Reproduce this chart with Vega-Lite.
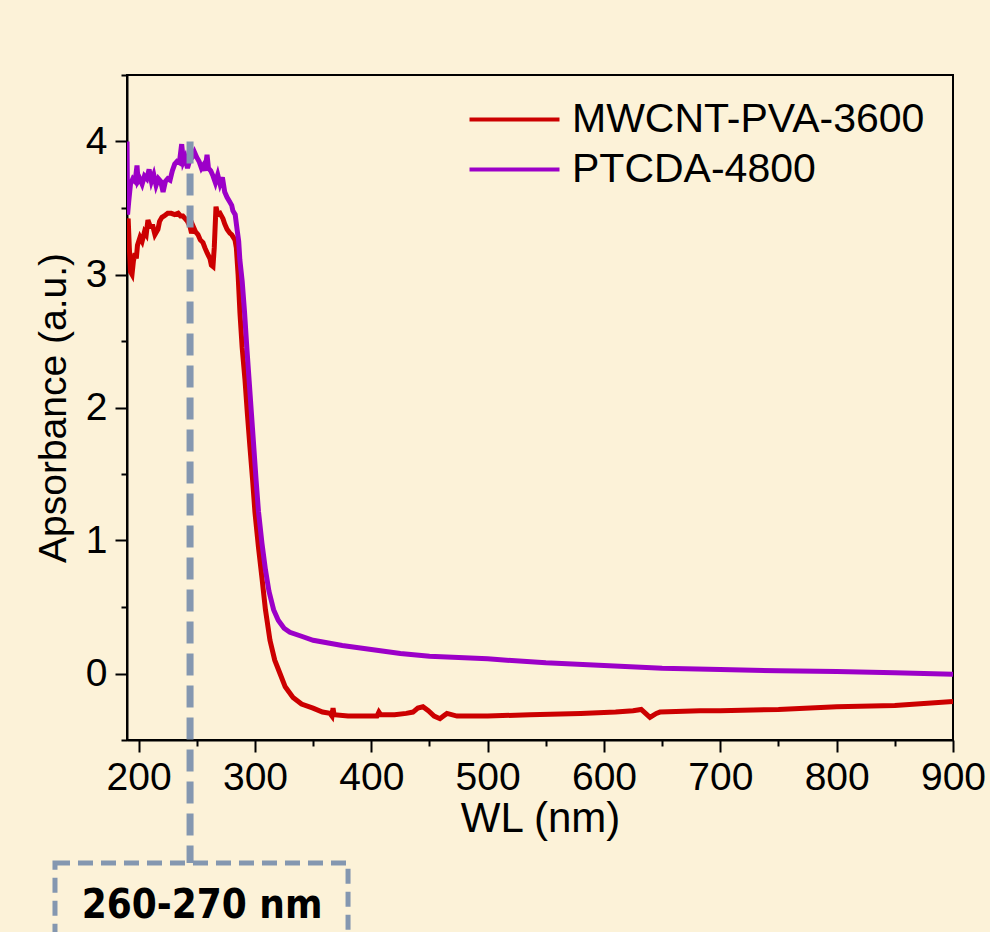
{
  "$schema": "https://vega.github.io/schema/vega-lite/v6.json",
  "width": 826,
  "height": 665,
  "autosize": {"type": "none"},
  "padding": {"left": 127, "top": 75, "right": 37, "bottom": 192},
  "background": "#FCF2D8",
  "config": {
    "view": {"stroke": "black", "strokeWidth": 2},
    "axis": {
      "domainColor": "black", "domainWidth": 2, "tickColor": "black", "tickWidth": 2,
      "labelFont": "Liberation Sans", "labelFontSize": 39, "labelColor": "black",
      "titleFont": "Liberation Sans", "titleFontSize": 39, "titleFontWeight": "normal", "titleColor": "black",
      "grid": false
    }
  },
  "datasets": {
    "spectra": [
      {"s": "MWCNT-PVA-3600", "wl": 190, "a": 3.38},
      {"s": "MWCNT-PVA-3600", "wl": 191, "a": 3.42},
      {"s": "MWCNT-PVA-3600", "wl": 192, "a": 3.2},
      {"s": "MWCNT-PVA-3600", "wl": 193, "a": 3.02},
      {"s": "MWCNT-PVA-3600", "wl": 194.3, "a": 3.0},
      {"s": "MWCNT-PVA-3600", "wl": 195.5, "a": 3.1},
      {"s": "MWCNT-PVA-3600", "wl": 196.9, "a": 3.16},
      {"s": "MWCNT-PVA-3600", "wl": 198, "a": 3.12},
      {"s": "MWCNT-PVA-3600", "wl": 199, "a": 3.22},
      {"s": "MWCNT-PVA-3600", "wl": 201.2, "a": 3.28},
      {"s": "MWCNT-PVA-3600", "wl": 203, "a": 3.25},
      {"s": "MWCNT-PVA-3600", "wl": 205, "a": 3.32},
      {"s": "MWCNT-PVA-3600", "wl": 206.5, "a": 3.3},
      {"s": "MWCNT-PVA-3600", "wl": 208, "a": 3.41},
      {"s": "MWCNT-PVA-3600", "wl": 210, "a": 3.36},
      {"s": "MWCNT-PVA-3600", "wl": 212.3, "a": 3.36},
      {"s": "MWCNT-PVA-3600", "wl": 214, "a": 3.3},
      {"s": "MWCNT-PVA-3600", "wl": 216.6, "a": 3.34},
      {"s": "MWCNT-PVA-3600", "wl": 218, "a": 3.4},
      {"s": "MWCNT-PVA-3600", "wl": 220, "a": 3.43},
      {"s": "MWCNT-PVA-3600", "wl": 222, "a": 3.44},
      {"s": "MWCNT-PVA-3600", "wl": 225, "a": 3.46},
      {"s": "MWCNT-PVA-3600", "wl": 228, "a": 3.46},
      {"s": "MWCNT-PVA-3600", "wl": 231, "a": 3.45},
      {"s": "MWCNT-PVA-3600", "wl": 234, "a": 3.46},
      {"s": "MWCNT-PVA-3600", "wl": 236, "a": 3.44},
      {"s": "MWCNT-PVA-3600", "wl": 238, "a": 3.44},
      {"s": "MWCNT-PVA-3600", "wl": 240, "a": 3.42},
      {"s": "MWCNT-PVA-3600", "wl": 242, "a": 3.4},
      {"s": "MWCNT-PVA-3600", "wl": 244.2, "a": 3.36},
      {"s": "MWCNT-PVA-3600", "wl": 245.5, "a": 3.31},
      {"s": "MWCNT-PVA-3600", "wl": 247, "a": 3.36},
      {"s": "MWCNT-PVA-3600", "wl": 249, "a": 3.32},
      {"s": "MWCNT-PVA-3600", "wl": 251, "a": 3.3},
      {"s": "MWCNT-PVA-3600", "wl": 253, "a": 3.26},
      {"s": "MWCNT-PVA-3600", "wl": 255.3, "a": 3.24},
      {"s": "MWCNT-PVA-3600", "wl": 257, "a": 3.2},
      {"s": "MWCNT-PVA-3600", "wl": 259, "a": 3.16},
      {"s": "MWCNT-PVA-3600", "wl": 261.3, "a": 3.12},
      {"s": "MWCNT-PVA-3600", "wl": 262.5, "a": 3.07},
      {"s": "MWCNT-PVA-3600", "wl": 263.9, "a": 3.06},
      {"s": "MWCNT-PVA-3600", "wl": 265, "a": 3.2},
      {"s": "MWCNT-PVA-3600", "wl": 266.5, "a": 3.51},
      {"s": "MWCNT-PVA-3600", "wl": 268, "a": 3.45},
      {"s": "MWCNT-PVA-3600", "wl": 270, "a": 3.46},
      {"s": "MWCNT-PVA-3600", "wl": 272.5, "a": 3.42},
      {"s": "MWCNT-PVA-3600", "wl": 274, "a": 3.38},
      {"s": "MWCNT-PVA-3600", "wl": 276, "a": 3.34},
      {"s": "MWCNT-PVA-3600", "wl": 278.5, "a": 3.31},
      {"s": "MWCNT-PVA-3600", "wl": 280, "a": 3.3},
      {"s": "MWCNT-PVA-3600", "wl": 282.8, "a": 3.26},
      {"s": "MWCNT-PVA-3600", "wl": 284, "a": 3.2},
      {"s": "MWCNT-PVA-3600", "wl": 285.5, "a": 3.0},
      {"s": "MWCNT-PVA-3600", "wl": 287.1, "a": 2.71},
      {"s": "MWCNT-PVA-3600", "wl": 289, "a": 2.45},
      {"s": "MWCNT-PVA-3600", "wl": 291.4, "a": 2.21},
      {"s": "MWCNT-PVA-3600", "wl": 293.5, "a": 1.95},
      {"s": "MWCNT-PVA-3600", "wl": 295.7, "a": 1.7},
      {"s": "MWCNT-PVA-3600", "wl": 298, "a": 1.45},
      {"s": "MWCNT-PVA-3600", "wl": 300, "a": 1.21},
      {"s": "MWCNT-PVA-3600", "wl": 303, "a": 0.95},
      {"s": "MWCNT-PVA-3600", "wl": 306, "a": 0.72},
      {"s": "MWCNT-PVA-3600", "wl": 309, "a": 0.48},
      {"s": "MWCNT-PVA-3600", "wl": 312.9, "a": 0.25},
      {"s": "MWCNT-PVA-3600", "wl": 317, "a": 0.1},
      {"s": "MWCNT-PVA-3600", "wl": 321.5, "a": 0.0},
      {"s": "MWCNT-PVA-3600", "wl": 326, "a": -0.1},
      {"s": "MWCNT-PVA-3600", "wl": 332.7, "a": -0.18},
      {"s": "MWCNT-PVA-3600", "wl": 340, "a": -0.23},
      {"s": "MWCNT-PVA-3600", "wl": 349.9, "a": -0.26},
      {"s": "MWCNT-PVA-3600", "wl": 358, "a": -0.29},
      {"s": "MWCNT-PVA-3600", "wl": 364.5, "a": -0.3},
      {"s": "MWCNT-PVA-3600", "wl": 366.2, "a": -0.32},
      {"s": "MWCNT-PVA-3600", "wl": 367.1, "a": -0.26},
      {"s": "MWCNT-PVA-3600", "wl": 368, "a": -0.31},
      {"s": "MWCNT-PVA-3600", "wl": 380, "a": -0.32},
      {"s": "MWCNT-PVA-3600", "wl": 395, "a": -0.32},
      {"s": "MWCNT-PVA-3600", "wl": 404.9, "a": -0.32},
      {"s": "MWCNT-PVA-3600", "wl": 406.5, "a": -0.29},
      {"s": "MWCNT-PVA-3600", "wl": 408, "a": -0.31},
      {"s": "MWCNT-PVA-3600", "wl": 420, "a": -0.31},
      {"s": "MWCNT-PVA-3600", "wl": 430, "a": -0.3},
      {"s": "MWCNT-PVA-3600", "wl": 435.8, "a": -0.29},
      {"s": "MWCNT-PVA-3600", "wl": 440, "a": -0.26},
      {"s": "MWCNT-PVA-3600", "wl": 444.4, "a": -0.25},
      {"s": "MWCNT-PVA-3600", "wl": 449, "a": -0.28},
      {"s": "MWCNT-PVA-3600", "wl": 454, "a": -0.32},
      {"s": "MWCNT-PVA-3600", "wl": 459, "a": -0.34},
      {"s": "MWCNT-PVA-3600", "wl": 462, "a": -0.32},
      {"s": "MWCNT-PVA-3600", "wl": 465, "a": -0.3},
      {"s": "MWCNT-PVA-3600", "wl": 473.7, "a": -0.32},
      {"s": "MWCNT-PVA-3600", "wl": 500, "a": -0.32},
      {"s": "MWCNT-PVA-3600", "wl": 536.4, "a": -0.31},
      {"s": "MWCNT-PVA-3600", "wl": 580, "a": -0.3},
      {"s": "MWCNT-PVA-3600", "wl": 610, "a": -0.29},
      {"s": "MWCNT-PVA-3600", "wl": 625, "a": -0.28},
      {"s": "MWCNT-PVA-3600", "wl": 632, "a": -0.27},
      {"s": "MWCNT-PVA-3600", "wl": 639.5, "a": -0.33},
      {"s": "MWCNT-PVA-3600", "wl": 645, "a": -0.3},
      {"s": "MWCNT-PVA-3600", "wl": 648.1, "a": -0.29},
      {"s": "MWCNT-PVA-3600", "wl": 682.5, "a": -0.28},
      {"s": "MWCNT-PVA-3600", "wl": 700, "a": -0.28},
      {"s": "MWCNT-PVA-3600", "wl": 750, "a": -0.27},
      {"s": "MWCNT-PVA-3600", "wl": 800, "a": -0.25},
      {"s": "MWCNT-PVA-3600", "wl": 850, "a": -0.24},
      {"s": "MWCNT-PVA-3600", "wl": 900, "a": -0.21},

      {"s": "PTCDA-4800", "wl": 190, "a": 4.0},
      {"s": "PTCDA-4800", "wl": 190.5, "a": 3.45},
      {"s": "PTCDA-4800", "wl": 191.5, "a": 3.55},
      {"s": "PTCDA-4800", "wl": 193, "a": 3.68},
      {"s": "PTCDA-4800", "wl": 195, "a": 3.72},
      {"s": "PTCDA-4800", "wl": 197, "a": 3.7},
      {"s": "PTCDA-4800", "wl": 198.6, "a": 3.82},
      {"s": "PTCDA-4800", "wl": 199.5, "a": 3.7},
      {"s": "PTCDA-4800", "wl": 201, "a": 3.72},
      {"s": "PTCDA-4800", "wl": 203, "a": 3.68},
      {"s": "PTCDA-4800", "wl": 205, "a": 3.74},
      {"s": "PTCDA-4800", "wl": 207, "a": 3.72},
      {"s": "PTCDA-4800", "wl": 209, "a": 3.79},
      {"s": "PTCDA-4800", "wl": 211, "a": 3.7},
      {"s": "PTCDA-4800", "wl": 213, "a": 3.75},
      {"s": "PTCDA-4800", "wl": 215, "a": 3.67},
      {"s": "PTCDA-4800", "wl": 217, "a": 3.72},
      {"s": "PTCDA-4800", "wl": 219, "a": 3.7},
      {"s": "PTCDA-4800", "wl": 221, "a": 3.62},
      {"s": "PTCDA-4800", "wl": 223, "a": 3.7},
      {"s": "PTCDA-4800", "wl": 225, "a": 3.72},
      {"s": "PTCDA-4800", "wl": 227, "a": 3.71},
      {"s": "PTCDA-4800", "wl": 229, "a": 3.78},
      {"s": "PTCDA-4800", "wl": 231, "a": 3.83},
      {"s": "PTCDA-4800", "wl": 233, "a": 3.85},
      {"s": "PTCDA-4800", "wl": 235, "a": 3.84},
      {"s": "PTCDA-4800", "wl": 237, "a": 3.98},
      {"s": "PTCDA-4800", "wl": 238.5, "a": 3.85},
      {"s": "PTCDA-4800", "wl": 240, "a": 3.88},
      {"s": "PTCDA-4800", "wl": 242, "a": 3.8},
      {"s": "PTCDA-4800", "wl": 244, "a": 3.86},
      {"s": "PTCDA-4800", "wl": 246, "a": 3.88},
      {"s": "PTCDA-4800", "wl": 248, "a": 3.92},
      {"s": "PTCDA-4800", "wl": 250, "a": 3.88},
      {"s": "PTCDA-4800", "wl": 252, "a": 3.85},
      {"s": "PTCDA-4800", "wl": 254, "a": 3.8},
      {"s": "PTCDA-4800", "wl": 255.5, "a": 3.82},
      {"s": "PTCDA-4800", "wl": 257, "a": 3.78},
      {"s": "PTCDA-4800", "wl": 258.8, "a": 3.9},
      {"s": "PTCDA-4800", "wl": 260, "a": 3.8},
      {"s": "PTCDA-4800", "wl": 262, "a": 3.78},
      {"s": "PTCDA-4800", "wl": 264, "a": 3.74},
      {"s": "PTCDA-4800", "wl": 266, "a": 3.69},
      {"s": "PTCDA-4800", "wl": 268, "a": 3.75},
      {"s": "PTCDA-4800", "wl": 270, "a": 3.68},
      {"s": "PTCDA-4800", "wl": 272, "a": 3.73},
      {"s": "PTCDA-4800", "wl": 274, "a": 3.62},
      {"s": "PTCDA-4800", "wl": 276, "a": 3.58},
      {"s": "PTCDA-4800", "wl": 278, "a": 3.55},
      {"s": "PTCDA-4800", "wl": 280, "a": 3.52},
      {"s": "PTCDA-4800", "wl": 281, "a": 3.48},
      {"s": "PTCDA-4800", "wl": 283, "a": 3.45},
      {"s": "PTCDA-4800", "wl": 284.6, "a": 3.34},
      {"s": "PTCDA-4800", "wl": 286, "a": 3.25},
      {"s": "PTCDA-4800", "wl": 287, "a": 3.11},
      {"s": "PTCDA-4800", "wl": 289, "a": 2.95},
      {"s": "PTCDA-4800", "wl": 291, "a": 2.72},
      {"s": "PTCDA-4800", "wl": 293, "a": 2.45},
      {"s": "PTCDA-4800", "wl": 295, "a": 2.2},
      {"s": "PTCDA-4800", "wl": 297, "a": 1.95},
      {"s": "PTCDA-4800", "wl": 299, "a": 1.7},
      {"s": "PTCDA-4800", "wl": 301, "a": 1.45},
      {"s": "PTCDA-4800", "wl": 303, "a": 1.22},
      {"s": "PTCDA-4800", "wl": 306, "a": 0.98},
      {"s": "PTCDA-4800", "wl": 309, "a": 0.78},
      {"s": "PTCDA-4800", "wl": 312, "a": 0.62},
      {"s": "PTCDA-4800", "wl": 316, "a": 0.48},
      {"s": "PTCDA-4800", "wl": 320, "a": 0.4},
      {"s": "PTCDA-4800", "wl": 325, "a": 0.34},
      {"s": "PTCDA-4800", "wl": 330, "a": 0.31},
      {"s": "PTCDA-4800", "wl": 340, "a": 0.28},
      {"s": "PTCDA-4800", "wl": 350, "a": 0.25},
      {"s": "PTCDA-4800", "wl": 375, "a": 0.21},
      {"s": "PTCDA-4800", "wl": 400, "a": 0.18},
      {"s": "PTCDA-4800", "wl": 425, "a": 0.15},
      {"s": "PTCDA-4800", "wl": 450, "a": 0.13},
      {"s": "PTCDA-4800", "wl": 500, "a": 0.11},
      {"s": "PTCDA-4800", "wl": 550, "a": 0.08},
      {"s": "PTCDA-4800", "wl": 600, "a": 0.06},
      {"s": "PTCDA-4800", "wl": 650, "a": 0.04},
      {"s": "PTCDA-4800", "wl": 700, "a": 0.03},
      {"s": "PTCDA-4800", "wl": 750, "a": 0.02},
      {"s": "PTCDA-4800", "wl": 800, "a": 0.015},
      {"s": "PTCDA-4800", "wl": 850, "a": 0.005},
      {"s": "PTCDA-4800", "wl": 900, "a": -0.005}
    ],
    "marker": [{"wl": 244.2, "top": 4.0, "bottom": -1.424}],
    "box": [{"x1": 128.1, "x2": 380, "y1": -1.424, "y2": -2.1, "tx": 254.5, "ty": -1.748, "label": "260-270 nm"}]
  },
  "layer": [
    {
      "data": {"name": "spectra"},
      "mark": {"type": "line", "strokeWidth": 5, "clip": true},
      "encoding": {
        "x": {"field": "wl", "type": "quantitative",
              "scale": {"domain": [190, 900], "nice": false, "zero": false},
              "axis": {"title": "WL (nm)", "titleFontSize": 42,
                       "values": [200, 250, 300, 350, 400, 450, 500, 550, 600, 650, 700, 750, 800, 850, 900],
                       "labelExpr": "datum.value % 100 === 0 ? datum.label : ''",
                       "tickSize": {"condition": {"test": "datum.value % 100 === 0", "value": 12}, "value": 6},
                       "labelPadding": 6, "titlePadding": 1, "labelFlush": false, "labelOverlap": false}},
        "y": {"field": "a", "type": "quantitative",
              "scale": {"domain": [-0.5, 4.5], "nice": false, "zero": false},
              "axis": {"title": "Apsorbance (a.u.)", "format": "~g",
                       "values": [-0.5, 0, 0.5, 1, 1.5, 2, 2.5, 3, 3.5, 4, 4.5],
                       "labelExpr": "datum.value % 1 === 0 ? datum.label : ''",
                       "tickSize": {"condition": {"test": "datum.value % 1 === 0", "value": 12}, "value": 6},
                       "labelPadding": 8, "titlePadding": 12, "labelFlush": false, "labelOverlap": false}},
        "color": {"field": "s", "type": "nominal",
                  "scale": {"domain": ["MWCNT-PVA-3600", "PTCDA-4800"], "range": ["#CC0000", "#9C00C8"]},
                  "legend": {"orient": "none", "legendX": 367, "legendY": 24, "title": null,
                             "symbolType": "M-4,0H4", "symbolSize": 506, "symbolStrokeWidth": 4,
                             "labelFont": "Liberation Sans", "labelFontSize": 41, "labelColor": "black",
                             "labelOffset": 37, "labelLimit": 600, "rowPadding": 8, "padding": 0}}
      }
    },
    {
      "data": {"name": "marker"},
      "mark": {"type": "rule", "clip": false, "color": "#8497B0", "strokeWidth": 7, "strokeDash": [22, 10]},
      "encoding": {
        "x": {"field": "wl", "type": "quantitative"},
        "y": {"field": "top", "type": "quantitative"},
        "y2": {"field": "bottom"}
      }
    },
    {
      "data": {"name": "box"},
      "mark": {"type": "rect", "clip": false, "fill": null, "fillOpacity": 0, "stroke": "#8497B0", "strokeWidth": 5, "strokeDash": [15, 8]},
      "encoding": {
        "x": {"field": "x1", "type": "quantitative"},
        "x2": {"field": "x2"},
        "y": {"field": "y1", "type": "quantitative"},
        "y2": {"field": "y2"}
      }
    },
    {
      "data": {"name": "box"},
      "mark": {"type": "text", "clip": false, "font": "DejaVu Sans Condensed", "fontWeight": "bold", "fontSize": 40, "color": "black", "align": "center", "baseline": "middle"},
      "encoding": {
        "x": {"field": "tx", "type": "quantitative"},
        "y": {"field": "ty", "type": "quantitative"},
        "text": {"field": "label"}
      }
    }
  ]
}
